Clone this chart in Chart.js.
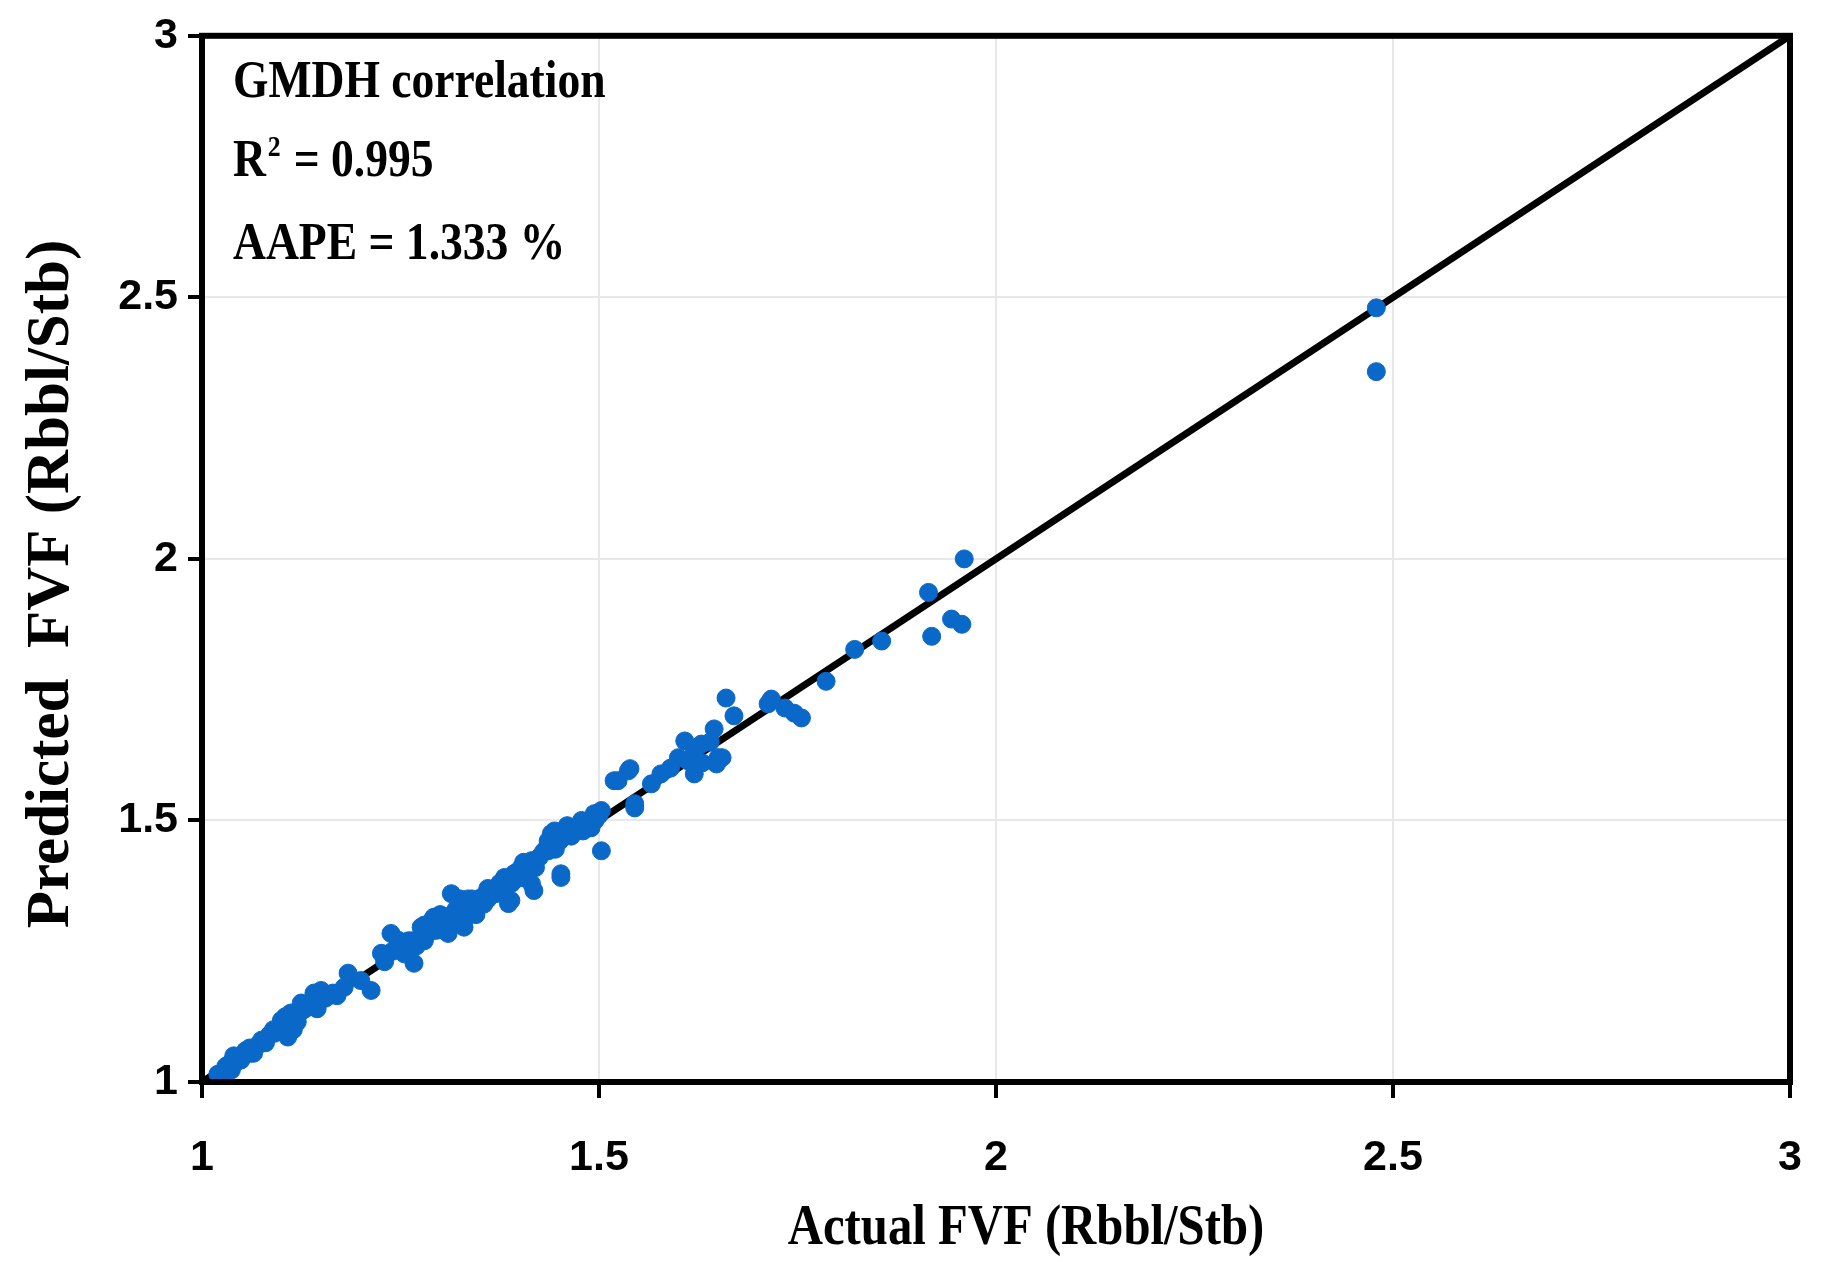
<!DOCTYPE html>
<html>
<head>
<meta charset="utf-8">
<script src="https://cdn.jsdelivr.net/npm/chart.js@4.4.1/dist/chart.umd.min.js"></script>
<style>
  html, body { margin: 0; padding: 0; background: #fff; }
  #wrap { width: 1828px; height: 1262px; }
</style>
</head>
<body>
<div id="wrap"><canvas id="fvfChart" width="1828" height="1262"></canvas></div>
<script>
// Actual vs predicted FVF
const actualFVF = [
  1.024, 1.037, 1.049, 1.062, 1.074, 1.091, 1.100, 1.108, 1.112, 1.125,
  1.141, 1.150, 1.179, 1.184, 1.200, 1.213, 1.226, 1.238, 1.247, 1.267,
  1.276, 1.292, 1.310, 1.314, 1.330, 1.335, 1.352, 1.373, 1.386, 1.393,
  1.418, 1.415, 1.436, 1.440, 1.452, 1.494, 1.524, 1.537, 1.545, 1.381,
  1.389, 1.402, 1.415, 1.418, 1.436, 1.444, 1.452, 1.461, 1.478, 1.490,
  1.503, 1.503, 1.519, 1.539, 1.545, 1.566, 1.578, 1.600, 1.612, 1.608,
  1.620, 1.629, 1.648, 1.650, 1.645, 1.670, 1.660, 1.713, 1.717, 1.734,
  1.746, 1.755, 1.786, 1.822, 1.856, 1.919, 1.944, 1.957, 1.915, 1.960,
  2.479, 2.479,
  1.030, 1.045, 1.055, 1.070, 1.085, 1.095, 1.105, 1.120, 1.130, 1.150,
  1.160, 1.250, 1.260, 1.280, 1.280, 1.290, 1.300, 1.310, 1.320, 1.325,
  1.330, 1.340, 1.345, 1.355, 1.360, 1.370, 1.390, 1.410, 1.420, 1.430,
  1.450, 1.460, 1.480, 1.590, 1.620, 1.630, 1.640, 1.655,
  1.020, 1.035, 1.040, 1.050, 1.060, 1.065, 1.075, 1.080, 1.090, 1.100,
  1.105, 1.110, 1.115, 1.120, 1.125, 1.135, 1.140, 1.145, 1.155, 1.165,
  1.170, 1.230, 1.240, 1.255, 1.265, 1.270, 1.285, 1.295, 1.300, 1.305,
  1.315, 1.320, 1.335, 1.340, 1.350, 1.360, 1.375, 1.380, 1.395, 1.400,
  1.405, 1.425, 1.435, 1.445, 1.455, 1.465, 1.470, 1.485, 1.495, 1.500
];
const predictedFVF = [
  1.010, 1.023, 1.042, 1.055, 1.074, 1.093, 1.118, 1.086, 1.132, 1.151,
  1.170, 1.175, 1.181, 1.208, 1.194, 1.175, 1.246, 1.284, 1.271, 1.227,
  1.296, 1.315, 1.284, 1.360, 1.296, 1.334, 1.353, 1.372, 1.341, 1.398,
  1.366, 1.423, 1.442, 1.475, 1.391, 1.513, 1.576, 1.595, 1.532, 1.391,
  1.347, 1.410, 1.379, 1.423, 1.461, 1.480, 1.398, 1.475, 1.500, 1.486,
  1.519, 1.442, 1.576, 1.599, 1.524, 1.570, 1.589, 1.620, 1.614, 1.652,
  1.589, 1.646, 1.608, 1.620, 1.675, 1.700, 1.734, 1.723, 1.732, 1.715,
  1.705, 1.696, 1.766, 1.827, 1.843, 1.852, 1.885, 1.875, 1.936, 2.000,
  2.480, 2.358,
  1.030, 1.040, 1.060, 1.070, 1.090, 1.100, 1.110, 1.130, 1.140, 1.160,
  1.165, 1.260, 1.270, 1.300, 1.270, 1.310, 1.320, 1.300, 1.330, 1.350,
  1.310, 1.350, 1.320, 1.340, 1.370, 1.360, 1.380, 1.400, 1.410, 1.440,
  1.460, 1.490, 1.480, 1.600, 1.630, 1.610, 1.650, 1.620,
  1.015, 1.035, 1.050, 1.050, 1.065, 1.055, 1.080, 1.075, 1.100, 1.105,
  1.125, 1.120, 1.100, 1.115, 1.135, 1.145, 1.155, 1.140, 1.160, 1.170,
  1.165, 1.230, 1.250, 1.245, 1.270, 1.260, 1.285, 1.290, 1.305, 1.290,
  1.320, 1.310, 1.350, 1.335, 1.340, 1.350, 1.380, 1.370, 1.400, 1.390,
  1.420, 1.430, 1.450, 1.445, 1.470, 1.470, 1.480, 1.495, 1.500, 1.510
];
const lineX = [1, 3];          // y = x reference line
const tickValues = [1, 1.5, 2, 2.5, 3];
const statsLines = ['GMDH correlation', 'R2 = 0.995', 'AAPE = 1.333 %'];
const xTitle = 'Actual FVF (Rbbl/Stb)';
const yTitle = 'Predicted  FVF (Rbbl/Stb)';

const points = actualFVF.map((x, i) => ({ x: x, y: predictedFVF[i] }));
const diagonal = lineX.map(v => ({ x: v, y: v }));

const tickFont = { family: "'Liberation Sans Narrow', 'Liberation Sans', sans-serif", size: 43, weight: 'bold' };
const serif = "'Liberation Serif', 'Times New Roman', serif";

// white background, box on top/right, axis titles and stats text
const framePlugin = {
  id: 'frame',
  beforeDraw(chart) {
    const c = chart.ctx;
    c.save();
    c.fillStyle = '#fff';
    c.fillRect(0, 0, chart.width, chart.height);
    c.restore();
  },
  afterDraw(chart) {
    const c = chart.ctx, a = chart.chartArea;
    c.save();
    c.strokeStyle = '#000';
    c.lineWidth = 6;
    c.strokeRect(a.left, a.top, a.right - a.left, a.bottom - a.top);

    c.fillStyle = '#000';
    c.textBaseline = 'middle';

    // stats block, slightly condensed like the original
    const sx = 0.86;
    const x0 = a.left + 31;
    const rows = [a.top + 48, a.top + 127, a.top + 210];
    c.save();
    c.translate(x0, 0);
    c.scale(sx, 1);
    c.font = 'bold 53px ' + serif;
    c.fillText(statsLines[0], 0, rows[0]);
    c.fillText('R', 0, rows[1]);
    const w = c.measureText('R').width;
    c.font = 'bold 30px ' + serif;
    c.fillText('2', w + 2, rows[1] - 15);
    const w2 = c.measureText('2').width;
    c.font = 'bold 53px ' + serif;
    c.fillText(statsLines[1].slice(2), w + w2 + 4, rows[1]);
    c.fillText(statsLines[2], 0, rows[2]);
    c.restore();

    // x axis title
    c.save();
    c.textAlign = 'center';
    c.translate((a.left + a.right) / 2 + 30, 1230);
    c.scale(0.87, 1);
    c.font = 'bold 56px ' + serif;
    c.fillText(xTitle, 0, 0);
    c.restore();

    // y axis title
    c.save();
    c.textAlign = 'center';
    c.translate(52, (a.top + a.bottom) / 2 + 25);
    c.rotate(-Math.PI / 2);
    c.font = 'bold 61px ' + serif;
    c.fillText(yTitle, 0, 0);
    c.restore();

    c.restore();
  }
};

new Chart(document.getElementById('fvfChart'), {
  type: 'scatter',
  data: {
    datasets: [
      {
        label: 'Data',
        data: points,
        backgroundColor: '#0a68c8',
        borderColor: '#0a68c8',
        pointRadius: 9,
        pointHoverRadius: 9,
        order: 1
      },
      {
        type: 'line',
        label: 'y = x',
        data: diagonal,
        borderColor: '#000',
        borderWidth: 7,
        pointRadius: 0,
        fill: false,
        order: 2
      }
    ]
  },
  options: {
    responsive: false,
    animation: false,
    layout: { padding: { top: 14, right: 38, left: 0, bottom: 0 } },
    plugins: {
      legend: { display: false },
      tooltip: { enabled: false }
    },
    scales: {
      x: {
        type: 'linear',
        min: 1, max: 3,
        afterBuildTicks: s => { s.ticks = tickValues.map(v => ({ value: v })); },
        afterFit: s => { s.height = 180; s.paddingRight = 0; s.paddingLeft = 0; },
        grid: { color: '#e8e8e8', lineWidth: 2, tickColor: '#000', tickLength: 16, tickWidth: 4 },
        border: { color: '#000', width: 6 },
        ticks: { color: '#000', font: tickFont, padding: 34, callback: v => String(v) }
      },
      y: {
        type: 'linear',
        min: 1, max: 3,
        afterBuildTicks: s => { s.ticks = tickValues.map(v => ({ value: v })); },
        afterFit: s => { s.width = 202; },
        grid: { color: '#e8e8e8', lineWidth: 2, tickColor: '#000', tickLength: 14, tickWidth: 4 },
        border: { color: '#000', width: 6 },
        ticks: { color: '#000', font: tickFont, padding: 10, callback: v => String(v) }
      }
    }
  },
  plugins: [framePlugin]
});
</script>
</body>
</html>
